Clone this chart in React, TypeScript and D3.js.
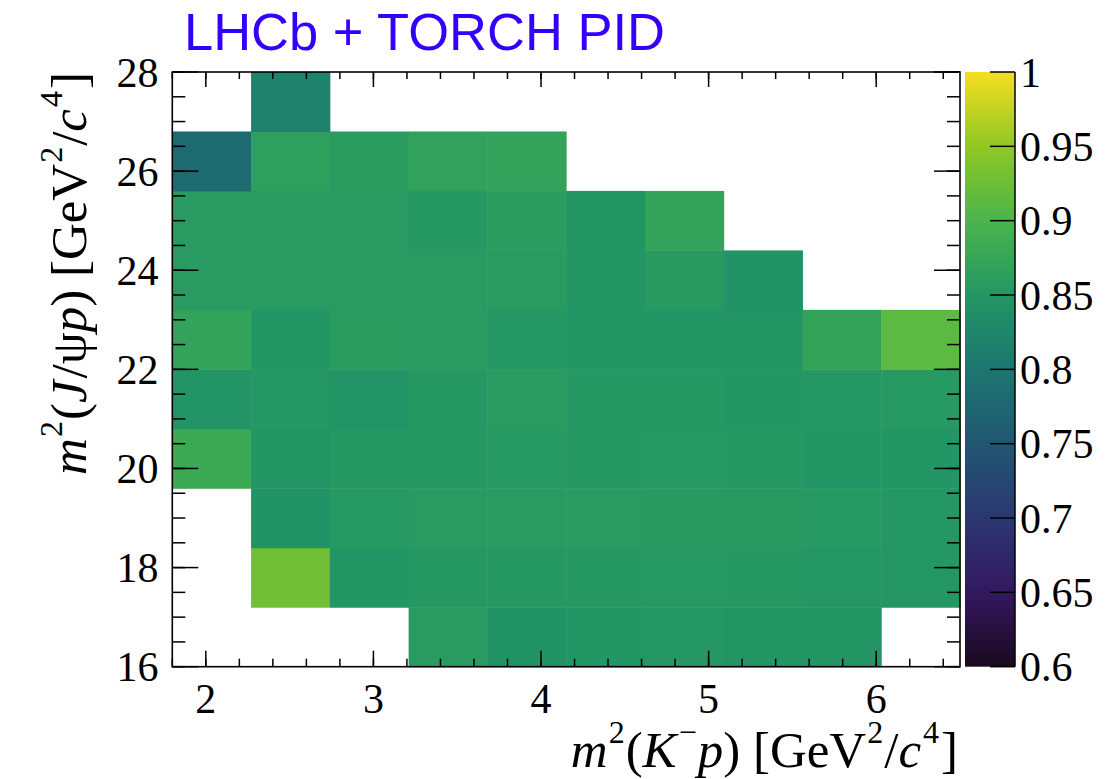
import React from "react";
import * as d3 from "d3";

// ---- data ----
const xBinEdges = [1.8, 2.27, 2.74, 3.21, 3.68, 4.15, 4.62, 5.09, 5.56, 6.03, 6.5];
const yBinEdges = [16, 17.2, 18.4, 19.6, 20.8, 22, 23.2, 24.4, 25.6, 26.8, 28];

// efficiency per (y bin, x bin); rows from lowest y bin upward; null = empty
const effRow0 = [null, null, null, 0.856, 0.845, 0.85, 0.852, 0.848, 0.848, null];
const effRow1 = [null, 0.928, 0.85, 0.853, 0.853, 0.853, 0.855, 0.853, 0.851, 0.851];
const effRow2 = [null, 0.846, 0.855, 0.856, 0.856, 0.856, 0.857, 0.857, 0.855, 0.851];
const effRow3 = [0.882, 0.848, 0.853, 0.853, 0.855, 0.853, 0.855, 0.853, 0.85, 0.85];
const effRow4 = [0.847, 0.852, 0.847, 0.853, 0.858, 0.853, 0.853, 0.85, 0.852, 0.855];
const effRow5 = [0.87, 0.85, 0.86, 0.856, 0.851, 0.85, 0.85, 0.848, 0.872, 0.913];
const effRow6 = [0.856, 0.856, 0.856, 0.856, 0.858, 0.848, 0.857, 0.843, null, null];
const effRow7 = [0.856, 0.856, 0.856, 0.853, 0.86, 0.849, 0.87, null, null, null];
const effRow8 = [0.781, 0.865, 0.86, 0.868, 0.87, null, null, null, null, null];
const effRow9 = [null, 0.819, null, null, null, null, null, null, null, null];
const effRows = [effRow0, effRow1, effRow2, effRow3, effRow4, effRow5, effRow6, effRow7, effRow8, effRow9];

const xMajorTicks = [2, 3, 4, 5, 6];
const xTickLabels = ["2", "3", "4", "5", "6"];
const yMajorTicks = [16, 18, 20, 22, 24, 26, 28];
const yTickLabels = ["16", "18", "20", "22", "24", "26", "28"];
const zTicks = [0.6, 0.65, 0.7, 0.75, 0.8, 0.85, 0.9, 0.95, 1];
const zTickLabels = ["0.6", "0.65", "0.7", "0.75", "0.8", "0.85", "0.9", "0.95", "1"];

// ROOT kViridis palette stops
const paletteStops = [0, 0.125, 0.25, 0.375, 0.5, 0.625, 0.75, 0.875, 1];
const paletteColors = [
  "rgb(26,9,30)", "rgb(51,24,96)", "rgb(43,55,112)", "rgb(33,87,114)", "rgb(28,118,112)",
  "rgb(35,150,101)", "rgb(74,180,75)", "rgb(144,200,35)", "rgb(246,222,33)",
];

const W = 1118, H = 779;
const L = 172.3, R = 960, T = 72, B = 666.7;
const zMin = 0.6, zMax = 1.0;

export default function App() {
  const x = d3.scaleLinear().domain([1.8, 6.5]).range([L, R]);
  const y = d3.scaleLinear().domain([16, 28]).range([B, T]);
  const z = d3.scaleLinear().domain([zMin, zMax]).range([B, T]);
  const color = d3
    .scaleLinear<string>()
    .domain(paletteStops.map((s) => zMin + s * (zMax - zMin)))
    .range(paletteColors)
    .interpolate(d3.interpolateRgb);

  const xMinor = d3.range(1.8, 6.5001, 0.2);
  const yMinor = d3.range(16, 28.001, 0.5);

  const cells: JSX.Element[] = [];
  effRows.forEach((row, j) => {
    row.forEach((v, i) => {
      if (v == null) return;
      const x0 = x(xBinEdges[i]);
      const x1 = x(xBinEdges[i + 1]);
      const y0 = y(yBinEdges[j + 1]);
      const y1 = y(yBinEdges[j]);
      cells.push(
        <rect key={`c${i}-${j}`} x={x0} y={y0} width={x1 - x0 + 0.5} height={y1 - y0 + 0.5} fill={color(v)} />
      );
    });
  });

  const serif = "'Liberation Serif', 'Times New Roman', serif";
  const fs = 42;
  const tfs = 51;
  const sfs = 32;
  const sup = -24;

  const gradStops = d3.range(0, 1.0001, 0.02);
  const barX0 = 965, barX1 = 1015;

  return (
    <svg width={W} height={H} style={{ position: "absolute", left: 0, top: 0, background: "#fff" }}>
      <defs>
        <linearGradient id="pal" x1="0" y1="1" x2="0" y2="0">
          {gradStops.map((s, k) => (
            <stop key={k} offset={s} stopColor={color(zMin + s * (zMax - zMin))} />
          ))}
        </linearGradient>
      </defs>
      <rect x={0} y={0} width={W} height={H} fill="#fff" />

      {/* title */}
      <text x={184} y={50} fontFamily="'Liberation Sans', Arial, sans-serif" fontSize={52.5} fill="#3300ff">
        LHCb + TORCH PID
      </text>

      {/* cells */}
      <g>{cells}</g>

      {/* frame */}
      <rect x={L} y={T} width={R - L} height={B - T} fill="none" stroke="#000" strokeWidth={1.6} />

      {/* ticks */}
      <g stroke="#000" strokeWidth={1.5}>
        {xMinor.map((v, k) => (
          <g key={`xm${k}`}>
            <line x1={x(v)} x2={x(v)} y1={B} y2={B - 8} />
            <line x1={x(v)} x2={x(v)} y1={T} y2={T + 7} />
          </g>
        ))}
        {xMajorTicks.map((v) => (
          <g key={`xM${v}`}>
            <line x1={x(v)} x2={x(v)} y1={B} y2={B - 16} />
            <line x1={x(v)} x2={x(v)} y1={T} y2={T + 15} />
          </g>
        ))}
        {yMinor.map((v, k) => (
          <g key={`ym${k}`}>
            <line x1={L} x2={L + 13} y1={y(v)} y2={y(v)} />
            <line x1={R} x2={R - 13} y1={y(v)} y2={y(v)} />
          </g>
        ))}
        {yMajorTicks.map((v) => (
          <g key={`yM${v}`}>
            <line x1={L} x2={L + 26} y1={y(v)} y2={y(v)} />
            <line x1={R} x2={R - 26} y1={y(v)} y2={y(v)} />
          </g>
        ))}
      </g>

      {/* x tick labels */}
      <g fontFamily={serif} fontSize={fs} fill="#000" textAnchor="middle">
        {xMajorTicks.map((v, k) => (
          <text key={`xl${v}`} x={x(v)} y={713}>
            {xTickLabels[k]}
          </text>
        ))}
      </g>
      {/* y tick labels */}
      <g fontFamily={serif} fontSize={fs} fill="#000" textAnchor="end">
        {yMajorTicks.map((v, k) => (
          <text key={`yl${v}`} x={158.5} y={y(v) + 14.5}>
            {yTickLabels[k]}
          </text>
        ))}
      </g>

      {/* x axis title */}
      <text x={958} y={767} fontFamily={serif} fontSize={tfs} textAnchor="end" fill="#000">
        <tspan fontStyle="italic">m</tspan>
        <tspan fontSize={sfs} dx={1} dy={sup}>2</tspan>
        <tspan dx={1} dy={-sup}>(</tspan>
        <tspan fontStyle="italic">K</tspan>
        <tspan fontSize={sfs} dx={2} dy={sup}>−</tspan>
        <tspan fontStyle="italic" dx={1} dy={-sup}>p</tspan>
        <tspan>) [GeV</tspan>
        <tspan fontSize={sfs} dx={1} dy={sup}>2</tspan>
        <tspan dx={1} dy={-sup}>/</tspan>
        <tspan fontStyle="italic">c</tspan>
        <tspan fontSize={sfs} dx={2} dy={sup}>4</tspan>
        <tspan dx={2} dy={-sup}>]</tspan>
      </text>

      {/* y axis title */}
      <text
        transform={`translate(86,72) rotate(-90)`}
        x={0}
        y={0}
        fontFamily={serif}
        fontSize={tfs}
        textAnchor="end"
        fill="#000"
      >
        <tspan fontStyle="italic">m</tspan>
        <tspan fontSize={sfs} dx={1} dy={sup}>2</tspan>
        <tspan dx={1} dy={-sup}>(</tspan>
        <tspan fontStyle="italic">J</tspan>
        <tspan dx={2}>/ψ</tspan>
        <tspan fontStyle="italic">p</tspan>
        <tspan>) [GeV</tspan>
        <tspan fontSize={sfs} dx={1} dy={sup}>2</tspan>
        <tspan dx={1} dy={-sup}>/</tspan>
        <tspan fontStyle="italic">c</tspan>
        <tspan fontSize={sfs} dx={2} dy={sup}>4</tspan>
        <tspan dx={2} dy={-sup}>]</tspan>
      </text>

      {/* color bar */}
      <rect x={barX0} y={T} width={barX1 - barX0} height={B - T} fill="url(#pal)" />
      <line x1={barX1} x2={barX1} y1={T} y2={B} stroke="#000" strokeWidth={1.5} />
      <g stroke="#000" strokeWidth={1.5}>
        {zTicks.map((v) => (
          <line key={`zt${v}`} x1={barX1} x2={barX1 - 25} y1={z(v)} y2={z(v)} />
        ))}
      </g>
      <g fontFamily={serif} fontSize={fs} fill="#000">
        {zTicks.map((v, k) => (
          <text key={`zl${v}`} x={1020} y={z(v) + 14.5}>
            {zTickLabels[k]}
          </text>
        ))}
      </g>
    </svg>
  );
}
